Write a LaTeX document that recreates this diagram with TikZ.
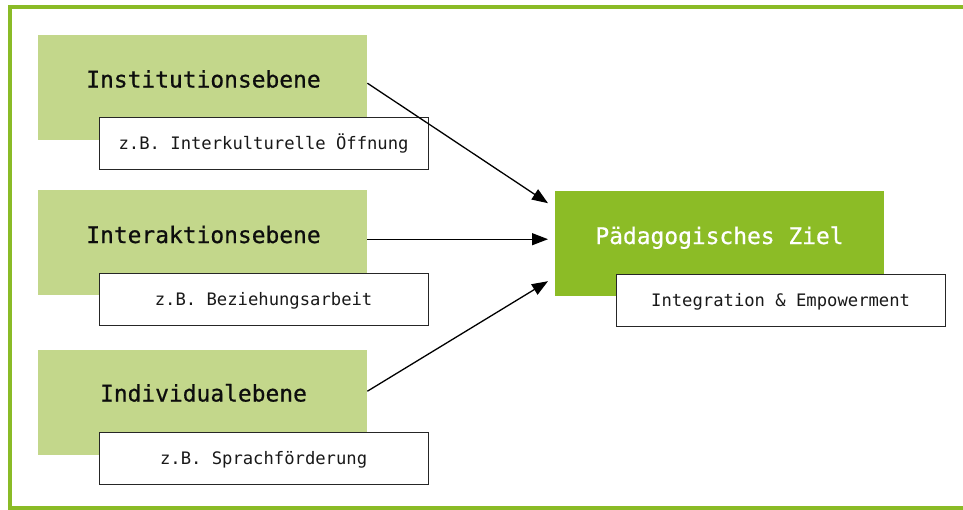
\documentclass[tikz,border=0pt]{standalone}
\usepackage{fontspec}
\setmonofont{DejaVu Sans Mono}
\newfontfamily\headfont{DejaVu Sans Mono}[FakeBold=0.7]
\usetikzlibrary{arrows.meta,calc}
\definecolor{levelgreen}{HTML}{C3D78B}
\definecolor{goalgreen}{HTML}{8CBC26}
\definecolor{framegreen}{HTML}{8ABB26}
\tikzset{
  levelbox/.style={fill=levelgreen, draw=none, minimum width=329pt, minimum height=105pt, inner sep=0pt, anchor=north west},
  goalbox/.style={fill=goalgreen, draw=none, minimum width=329pt, minimum height=105pt, inner sep=0pt, anchor=north west},
  notebox/.style={fill=white, draw=black!85, line width=1.2pt, minimum width=329pt, minimum height=52pt, inner sep=0pt, anchor=north west},
  titletext/.style={font=\headfont\fontsize{22.9}{26}\selectfont, text=black!95, inner sep=0pt, anchor=base},
  notetext/.style={font=\ttfamily\fontsize{17.2}{20}\selectfont, text=black!90, inner sep=0pt, anchor=base},
  link/.style={-{Triangle[length=16pt,width=12pt]}, line width=1.3pt, black}
}
\begin{document}
\begin{tikzpicture}[x=1pt,y=-1pt]
\useasboundingbox (0,0) rectangle (963,509);
\begin{scope}
\clip (0,0) rectangle (963,509);
% outer frame, open to the right
\draw[framegreen, line width=4pt] (980,7) -- (10,7) -- (10,507.5) -- (980,507.5);
\end{scope}

% level boxes
\node[levelbox] (g1) at (38,35) {};
\node[levelbox] (g2) at (38,190) {};
\node[levelbox] (g3) at (38,349.5) {};
\node[titletext] (t1) at (203.5,87.5) {Institutionsebene};
\node[titletext] (t2) at (203.5,243) {Interaktionsebene};
\node[titletext] (t3) at (203.5,401.5) {Individualebene};

% example boxes
\node[notebox] (w1) at (98.5,116.5) {};
\node[notebox] (w2) at (98.5,272.5) {};
\node[notebox] (w3) at (98.5,431.5) {};
\node[notetext] (n1) at (w1.center) [yshift=-6pt] {z.B. Interkulturelle Öffnung};
\node[notetext] (n2) at (w2.center) [yshift=-6pt] {z.B. Beziehungsarbeit};
\node[notetext] (n3) at (w3.center) [yshift=-6pt] {z.B. Sprachförderung};

% goal
\node[goalbox] (p) at (555,191) {};
\node[titletext, text=white] (pt) at (719.5,244) {Pädagogisches Ziel};
\node[notebox] (pw) at (615.5,273.5) {};
\node[notetext] (pn) at (pw.center) [yshift=-6pt] {Integration \& Empowerment};

% connectors
\draw[link] ([yshift=4.5pt]g1.east) -- ([xshift=-7pt,yshift=40.5pt]p.west);
\draw[link] ([yshift=3.5pt]g2.east) -- ([xshift=-7pt,yshift=4.5pt]p.west);
\draw[link] ([yshift=11pt]g3.east) -- ([xshift=-7pt,yshift=-37.5pt]p.west);
\end{tikzpicture}
\end{document}
